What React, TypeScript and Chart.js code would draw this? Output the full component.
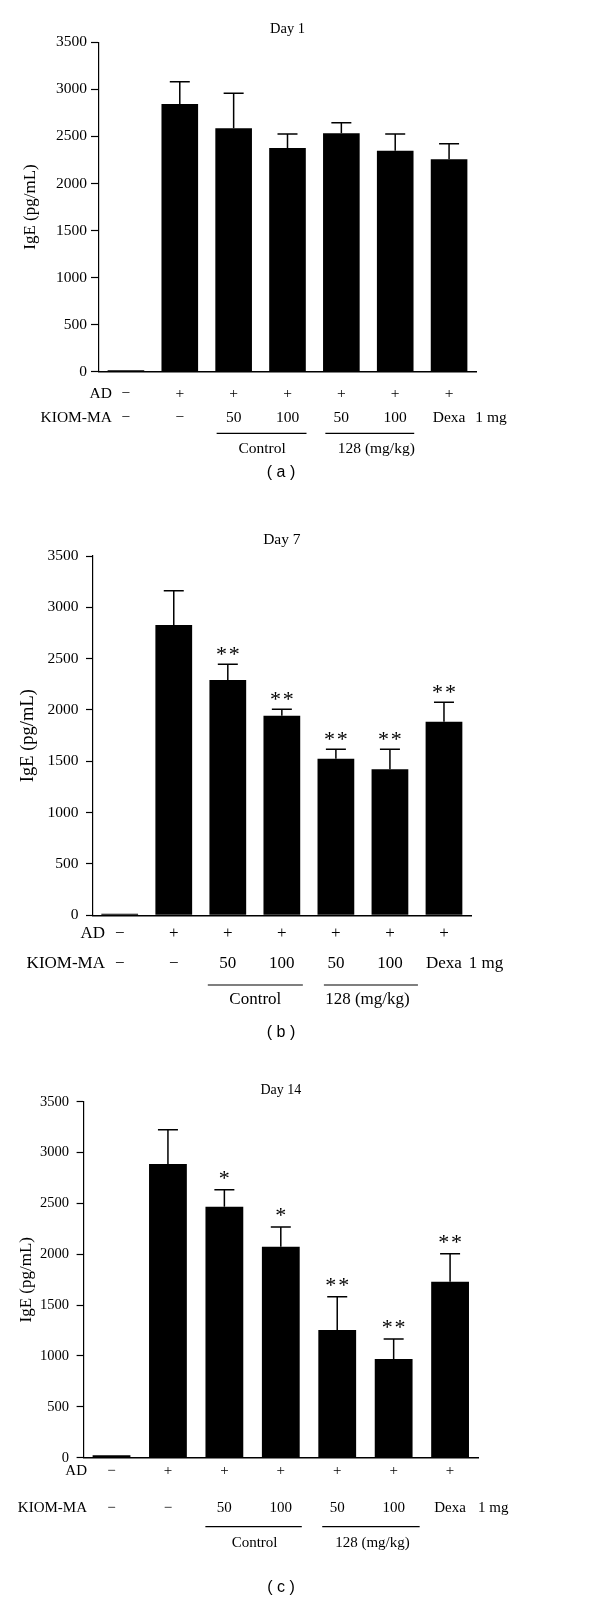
import { useEffect, useRef } from "react";
import { Chart, registerables } from "chart.js";

Chart.register(...registerables);

// ---------- data ----------
const groups = ["Normal", "AD", "Control 50", "Control 100", "KIOM-MA 128 50", "KIOM-MA 128 100", "Dexa"];
const rowLabels = ["AD", "KIOM-MA"];
const adRow = ["−", "+", "+", "+", "+", "+", "+"];
const kiomRow = ["−", "−", "50", "100", "50", "100", "Dexa"];
const doseUnit = "1 mg";
const groupLabels = ["Control", "128 (mg/kg)"];
const yAxisTitle = "IgE (pg/mL)";
const yMax = 3500;
const yStep = 500;

const day1Mean = [15, 2844, 2586, 2377, 2533, 2348, 2257];
const day1Sd = [0, 237, 372, 149, 113, 178, 166];
const day1Sig = ["", "", "", "", "", "", ""];

const day7Mean = [15, 2828, 2292, 1944, 1525, 1422, 1886];
const day7Sd = [0, 334, 153, 63, 92, 195, 189];
const day7Sig = ["", "", "**", "**", "**", "**", "**"];

const day14Mean = [25, 2887, 2468, 2074, 1255, 970, 1730];
const day14Sd = [0, 338, 167, 194, 328, 197, 275];
const day14Sig = ["", "", "*", "*", "**", "**", "**"];

// ---------- layout (page coordinates) ----------
const SERIF = "'Liberation Serif', 'Times New Roman', serif";
const SANS = "'Liberation Sans', Arial, sans-serif";

const panels = [
  {
    title: "Day 1", caption: "( a )", mean: day1Mean, sd: day1Sd, sig: day1Sig,
    top: 0, height: 495, area: { l: 99, r: 476, t: 42.3, b: 371.7 },
    titleY: 29, titleFont: 14.5, yLabelX: 31, yLabelFont: 17,
    tickFont: 15.5, tickLen: 8, tickPad: 4,
    adY: 394, kiomY: 418.3, rowRight: 112, rowFont: 15.5,
    ulY: 433.3, grpY: 449.3, ul: [[-17, 19], [-16, 19]], grpDx: [1.5, 8],
    capY: 472.7, barPct: 0.68, starGap: 14,
  },
  {
    title: "Day 7", caption: "( b )", mean: day7Mean, sd: day7Sd, sig: day7Sig,
    top: 495, height: 545, area: { l: 92.7, r: 471, t: 556, b: 915.3 },
    titleY: 540, titleFont: 15.5, yLabelX: 28, yLabelFont: 18.5,
    tickFont: 15.5, tickLen: 6.7, tickPad: 7.5,
    adY: 933.3, kiomY: 964, rowRight: 105, rowFont: 17,
    ulY: 985, grpY: 1000, ul: [[-20, 21], [-12, 28]], grpDx: [0.5, 4.5],
    capY: 1033, barPct: 0.68, starGap: 13.5,
  },
  {
    title: "Day 14", caption: "( c )", mean: day14Mean, sd: day14Sd, sig: day14Sig,
    top: 1040, height: 563, area: { l: 83.3, r: 478.3, t: 1101.7, b: 1457.7 },
    titleY: 1090, titleFont: 14, yLabelX: 27, yLabelFont: 17,
    tickFont: 14.5, tickLen: 6.7, tickPad: 7.5,
    adY: 1471, kiomY: 1507.7, rowRight: 87, rowFont: 15,
    ulY: 1526.7, grpY: 1542.7, ul: [[-19, 21], [-15, 26]], grpDx: [2, 7],
    capY: 1587.7, barPct: 0.67, starGap: 15,
  },
];

type PanelT = (typeof panels)[number];

function drawStar(ctx: CanvasRenderingContext2D, x: number, cy: number) {
  ctx.font = `22px ${SERIF}`;
  const m = ctx.measureText("*");
  const asc = m.actualBoundingBoxAscent;
  const desc = m.actualBoundingBoxDescent;
  ctx.textAlign = "center";
  ctx.textBaseline = "alphabetic";
  ctx.fillText("*", x, cy + (asc - desc) / 2);
}

function PanelChart({ p }: { p: PanelT }) {
  const ref = useRef<HTMLCanvasElement>(null);

  useEffect(() => {
    const canvas = ref.current!;
    const T = p.top;
    const area = { l: p.area.l, r: p.area.r, t: p.area.t - T, b: p.area.b - T };

    const annot = {
      id: "annot",
      afterDatasetsDraw(chart: any) {
        const ctx: CanvasRenderingContext2D = chart.ctx;
        const xs = chart.scales.x;
        const ys = chart.scales.y;
        ctx.save();
        ctx.strokeStyle = "#000";
        ctx.fillStyle = "#000";
        ctx.lineWidth = 1.5;
        p.mean.forEach((m, i) => {
          const sd = p.sd[i];
          const x = xs.getPixelForValue(i);
          const y1 = ys.getPixelForValue(m + sd);
          if (sd > 0) {
            const y0 = ys.getPixelForValue(m);
            ctx.beginPath();
            ctx.moveTo(x, y0);
            ctx.lineTo(x, y1);
            ctx.moveTo(x - 10, y1);
            ctx.lineTo(x + 10, y1);
            ctx.stroke();
          }
          const s = p.sig[i];
          if (s) {
            const cy = y1 - p.starGap;
            if (s.length === 1) drawStar(ctx, x, cy);
            else {
              drawStar(ctx, x - 6.4, cy);
              drawStar(ctx, x + 6.4, cy);
            }
          }
        });
        ctx.restore();
      },
      afterDraw(chart: any) {
        const ctx: CanvasRenderingContext2D = chart.ctx;
        const xs = chart.scales.x;
        const ca = chart.chartArea;
        ctx.save();
        ctx.fillStyle = "#000";
        ctx.strokeStyle = "#000";

        // title
        ctx.font = `${p.titleFont}px ${SERIF}`;
        ctx.textAlign = "center";
        ctx.textBaseline = "middle";
        ctx.fillText(p.title, (ca.left + ca.right) / 2, p.titleY - T);

        // y-axis title
        ctx.save();
        ctx.translate(p.yLabelX, (ca.top + ca.bottom) / 2);
        ctx.rotate(-Math.PI / 2);
        ctx.font = `${p.yLabelFont}px ${SERIF}`;
        ctx.fillText(yAxisTitle, 0, 0);
        ctx.restore();

        // treatment rows
        ctx.font = `${p.rowFont}px ${SERIF}`;
        ctx.textAlign = "right";
        ctx.fillText(rowLabels[0], p.rowRight, p.adY - T);
        ctx.fillText(rowLabels[1], p.rowRight, p.kiomY - T);
        ctx.textAlign = "center";
        adRow.forEach((t, i) => ctx.fillText(t, xs.getPixelForValue(i), p.adY - T));
        kiomRow.forEach((t, i) => ctx.fillText(t, xs.getPixelForValue(i), p.kiomY - T));
        ctx.fillText(doseUnit, ca.right + 15, p.kiomY - T);

        // group underlines
        ctx.lineWidth = 1.2;
        const pairs = [[2, 3], [4, 5]];
        pairs.forEach(([a, b], k) => {
          const xa = xs.getPixelForValue(a) + p.ul[k][0];
          const xb = xs.getPixelForValue(b) + p.ul[k][1];
          ctx.beginPath();
          ctx.moveTo(xa, p.ulY - T);
          ctx.lineTo(xb, p.ulY - T);
          ctx.stroke();
          const mid = (xs.getPixelForValue(a) + xs.getPixelForValue(b)) / 2 + p.grpDx[k];
          ctx.fillText(groupLabels[k], mid, p.grpY - T);
        });

        // caption
        ctx.font = `16px ${SANS}`;
        ctx.fillText(p.caption, 281, p.capY - T);
        ctx.restore();
      },
    };

    const chart = new Chart(canvas, {
      type: "bar",
      data: {
        labels: groups,
        datasets: [
          {
            data: p.mean,
            backgroundColor: "#000",
            borderWidth: 0,
            barPercentage: p.barPct,
            categoryPercentage: 1,
          },
        ],
      },
      options: {
        responsive: false,
        animation: false,
        devicePixelRatio: 1,
        layout: { padding: { left: 0, right: 600 - area.r, top: area.t, bottom: 0 } },
        plugins: {
          legend: { display: false },
          tooltip: { enabled: false },
          title: { display: false },
        },
        scales: {
          x: {
            type: "category",
            grid: { display: false },
            ticks: { display: false },
            border: { display: true, color: "#000", width: 1.5 },
            afterFit: (s: any) => {
              s.height = p.height - area.b;
            },
          },
          y: {
            min: 0,
            max: yMax,
            ticks: {
              stepSize: yStep,
              color: "#000",
              font: { family: SERIF, size: p.tickFont },
              padding: p.tickPad,
              callback: (v: any) => String(v),
            },
            grid: {
              drawOnChartArea: false,
              drawTicks: true,
              tickLength: p.tickLen,
              tickColor: "#000",
              tickWidth: 1.2,
              color: "#000",
            },
            border: { display: true, color: "#000", width: 1.2 },
            afterFit: (s: any) => {
              s.width = area.l;
            },
          },
        },
      } as any,
      plugins: [annot],
    });
    return () => chart.destroy();
  }, [p]);

  return (
    <canvas
      ref={ref}
      width={600}
      height={p.height}
      style={{ position: "absolute", left: 0, top: p.top, width: 600, height: p.height, display: "block" }}
    />
  );
}

export default function App() {
  return (
    <div style={{ position: "absolute", left: 0, top: 0, width: 600, height: 1603, background: "#fff" }}>
      {panels.map((p) => (
        <PanelChart key={p.title} p={p} />
      ))}
    </div>
  );
}
